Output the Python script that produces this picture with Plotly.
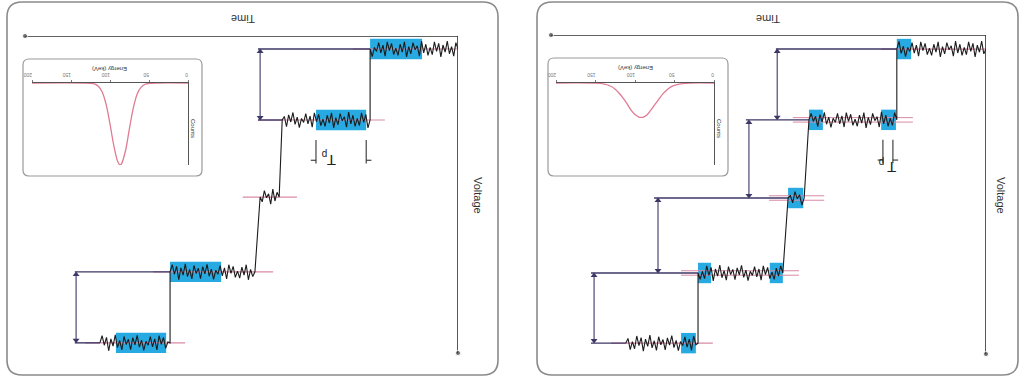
import plotly.graph_objects as go

W, H = 1022, 383

# ---------------- data ----------------
# hand-read noise pattern (relative amplitude), tiled along each plateau
NOISE = [0.2, -0.8, 0.9, -0.3, 0.6, -1.0, 0.4, -0.5, 1.0, -0.7, 0.3, -0.9, 0.7, -0.2,
         0.8, -0.6, 0.5, -1.0, 0.9, -0.4, 0.1, -0.8, 0.6, -0.3, 1.0, -0.9, 0.4, -0.6,
         0.8, -0.1, 0.7, -0.7, 0.2, -0.9, 0.9, -0.5, 0.5, -0.8, 0.3, -0.2, 0.95, -0.35,
         0.55, -0.95, 0.25, -0.65, 0.85, -0.45]

# left panel (time units 0..100, voltage units 0..100)
L_LEVELS = [4.1, 26.5, 50.8, 74.4, 96.8]
L_SEG_START = [0.0, 20.3, 41.3, 46.9, 66.5]
L_SEG_END = [20.3, 40.6, 45.7, 66.5, 82.7]
L_BOXES = [(8.3, 20.3, 0), (21.2, 32.8, 1), (54.7, 66.5, 3), (67.4, 79.0, 4)]
L_PINK = [(0.0, 24.2, 0), (16.9, 46.2, 1), (37.2, 49.7, 2), (42.7, 70.4, 3), (63.0, 86.1, 4)]
L_PURPLE = [(20.3, 46.2, 0), (40.6, 46.2, 1), (66.5, 88.5, 3), (82.7, 88.5, 4)]
L_ARROWS = [(45.7, 0, 1), (88.2, 3, 4)]
L_TP = [21.2, 32.8]
L_TP_LABEL = [(29.1, 39.3), (30.8, 37.6)]   # (time, voltage) of "T" and of "p"

# right panel
R_LEVELS = [4.4, 26.6, 51.1, 74.6, 96.6]
R_SEG_START = [0.0, 20.5, 41.8, 46.7, 66.2]
R_SEG_END = [20.5, 40.7, 45.5, 66.2, 82.8]
R_BOXES = [(17.2, 20.5, 0), (20.7, 24.1, 1), (37.5, 40.7, 1), (42.0, 45.5, 2),
           (46.7, 49.7, 3), (63.2, 66.2, 3), (66.7, 70.1, 4)]
R_PINK = [(0.0, 24.1, 0), (16.8, 44.4, 1), (37.2, 49.9, 2), (43.0, 70.1, 3), (62.8, 86.2, 4)]
R_PINK_DOUBLE = [1, 2, 3]
R_PURPLE = [(20.5, 48.3, 0), (40.7, 55.2, 1), (45.5, 76.3, 2), (66.2, 90.8, 3), (82.8, 90.8, 4)]
R_ARROWS = [(48.0, 0, 1), (54.5, 1, 2), (75.4, 2, 3), (90.1, 3, 4)]
R_TP = [21.4, 23.7]
R_TP_LABEL = [(21.7, 41.6), (24.0, 40.0)]

# insets: energy spectrum (counts vs energy)
ENERGY_TICKS = [0, 50, 100, 150, 200]
L_SPEC_E = [0, 40, 50, 55, 60, 65, 70, 75, 80, 85, 87, 90, 95, 100, 105, 110, 115, 120, 125, 135, 200]
L_SPEC_C = [0, 0, 0.5, 1.5, 5, 13, 30, 55, 82, 98, 100, 96, 77, 50, 26, 11, 4, 1.1, 0.3, 0, 0]
R_SPEC_E = [0, 30, 40, 50, 55, 60, 65, 70, 75, 80, 85, 90, 92, 95, 100, 105, 110, 115, 120, 125, 130, 140, 150, 200]
R_SPEC_C = [0, 0, 0.8, 2.8, 5, 8.8, 13.5, 20, 26.5, 33, 39, 41.8, 42, 41.5, 38.5, 33, 25.5, 18.5, 12.5, 7.6, 4.3, 1.2, 0.2, 0]

# ---------------- styles ----------------
BLUE = '#27a9e1'
PINK = '#d98aa6'
PURPLE = '#3d3766'
INK = '#1c1c1c'
AXIS = '#2e2e2e'
BORDER = '#8a8a8a'
SPEC = '#e07b93'
AMP = 2.5
STEP = 0.5
BOX_HALF = 3.2
FONT = 'Liberation Sans, Arial, sans-serif'


def px_x(p):
    return p / W


def px_y(p):
    return 1 - p / H


def rrect(x0, y0, x1, y1, r):
    pts = [('M', x0 + r, y0), ('L', x1 - r, y0), ('Q', x1, y0, x1, y0 + r), ('L', x1, y1 - r),
           ('Q', x1, y1, x1 - r, y1), ('L', x0 + r, y1), ('Q', x0, y1, x0, y1 - r),
           ('L', x0, y0 + r), ('Q', x0, y0, x0 + r, y0)]
    out = []
    for p in pts:
        cmd = p[0]
        coords = p[1:]
        s = []
        for i in range(0, len(coords), 2):
            s.append(f"{px_x(coords[i]):.5f},{px_y(coords[i+1]):.5f}")
        out.append(cmd + ' ' + ' '.join(s))
    return ' '.join(out) + ' Z'


def noisy(t0, t1, level, offset):
    n = max(2, int(round((t1 - t0) / STEP)) + 1)
    ts, vs = [], []
    for k in range(n):
        ts.append(t0 + (t1 - t0) * k / (n - 1))
        if k == 0 or k == n - 1:
            vs.append(level)
        else:
            vs.append(level + AMP * NOISE[(offset + k) % len(NOISE)])
    return ts, vs


fig = go.Figure()
shapes = []
annotations = []

# ---------------- axes layout ----------------
panels = [
    dict(xa='x', ya='y', xd=(25, 458), yd=(36, 353)),
    dict(xa='x3', ya='y3', xd=(551, 986), yd=(35, 354)),
]
insets = [
    dict(xa='x2', ya='y2', xd=(32, 188), yd=(83, 165)),
    dict(xa='x4', ya='y4', xd=(556, 714), yd=(83, 165)),
]

HIDDEN = dict(showline=False, showgrid=False, zeroline=False, showticklabels=False, ticks='',
              title=dict(text=''), fixedrange=True, automargin=False)

layout_axes = {}
for p in panels:
    xn = 'xaxis' + p['xa'][1:]
    yn = 'yaxis' + p['ya'][1:]
    layout_axes[xn] = dict(domain=[px_x(p['xd'][0]), px_x(p['xd'][1])], range=[100, 0],
                           anchor=p['ya'], **HIDDEN)
    layout_axes[yn] = dict(domain=[px_y(p['yd'][1]), px_y(p['yd'][0])], range=[100, 0],
                           anchor=p['xa'], **HIDDEN)
for p in insets:
    xn = 'xaxis' + p['xa'][1:]
    yn = 'yaxis' + p['ya'][1:]
    layout_axes[xn] = dict(domain=[px_x(p['xd'][0]), px_x(p['xd'][1])], range=[200, 0],
                           side='top', anchor=p['ya'], showline=True, linecolor='#555',
                           linewidth=1.2, ticks='outside', ticklen=2, tickcolor='#777',
                           tickvals=ENERGY_TICKS, ticktext=[str(v) for v in ENERGY_TICKS],
                           tickangle=180, tickfont=dict(size=5, color='#777', family=FONT),
                           showgrid=False, zeroline=False, fixedrange=True, automargin=False)
    layout_axes[yn] = dict(domain=[px_y(p['yd'][1]), px_y(p['yd'][0])], range=[100, 0],
                           side='right', anchor=p['xa'], showline=True, linecolor='#555',
                           linewidth=1.2, showticklabels=False, ticks='', showgrid=False,
                           zeroline=False, fixedrange=True, automargin=False)

# ---------------- panel content ----------------
def draw_panel(xa, ya, levels, seg_s, seg_e, boxes, pinks, pink_double, purples, arrows, tp,
               tp_label, off0):
    for t0, t1, li in boxes:
        shapes.append(dict(type='rect', xref=xa, yref=ya, x0=t0, x1=t1,
                           y0=levels[li] - BOX_HALF, y1=levels[li] + BOX_HALF,
                           fillcolor=BLUE, line=dict(width=0), layer='below'))
    for t0, t1, li in pinks:
        if li in pink_double:
            for dv in (-0.7, 0.7):
                shapes.append(dict(type='line', xref=xa, yref=ya, x0=t0, x1=t1,
                                   y0=levels[li] + dv, y1=levels[li] + dv,
                                   line=dict(color=PINK, width=1), layer='below'))
        else:
            shapes.append(dict(type='line', xref=xa, yref=ya, x0=t0, x1=t1,
                               y0=levels[li], y1=levels[li],
                               line=dict(color=PINK, width=1.2), layer='below'))
    for t0, t1, li in purples:
        shapes.append(dict(type='line', xref=xa, yref=ya, x0=t0, x1=t1,
                           y0=levels[li], y1=levels[li],
                           line=dict(color=PURPLE, width=1.4), layer='below'))
    # double-headed arrows between consecutive levels (line + triangle heads)
    for t, a, b in arrows:
        fig.add_trace(go.Scatter(x=[t, t], y=[levels[a] + 0.8, levels[b] - 0.8], xaxis=xa, yaxis=ya,
                                 mode='lines+markers', line=dict(color=PURPLE, width=1.1),
                                 marker=dict(symbol=['triangle-up', 'triangle-down'], size=6,
                                             color=PURPLE),
                                 hoverinfo='skip', cliponaxis=False))
    for t in tp:
        shapes.append(dict(type='line', xref=xa, yref=ya, x0=t, x1=t, y0=32.8, y1=40.2,
                           line=dict(color='#333', width=1.1)))
    shapes.append(dict(type='line', xref=xa, yref=ya, x0=tp[0] - 1.2, x1=tp[0], y0=39.2, y1=39.2,
                       line=dict(color='#333', width=1.1)))
    shapes.append(dict(type='line', xref=xa, yref=ya, x0=tp[1], x1=tp[1] + 1.2, y0=39.2, y1=39.2,
                       line=dict(color='#333', width=1.1)))
    (tt, tv), (pt, pv) = tp_label
    annotations.append(dict(xref=xa, yref=ya, x=tt, y=tv, text='T', showarrow=False,
                            textangle=180, xanchor='center', yanchor='middle',
                            font=dict(size=15, color='#222', family=FONT)))
    annotations.append(dict(xref=xa, yref=ya, x=pt, y=pv, text='p', showarrow=False,
                            textangle=180, xanchor='center', yanchor='middle',
                            font=dict(size=10, color='#222', family=FONT)))
    ts, vs = [], []
    for i, lv in enumerate(levels):
        a, b = noisy(seg_s[i], seg_e[i], lv, off0 + 7 * i)
        ts += a
        vs += b
    fig.add_trace(go.Scatter(x=ts, y=vs, xaxis=xa, yaxis=ya, mode='lines',
                             line=dict(color=INK, width=1.1), hoverinfo='skip', cliponaxis=False))
    fig.add_trace(go.Scatter(x=[0, 100], y=[0, 0], xaxis=xa, yaxis=ya, mode='lines+markers',
                             line=dict(color=AXIS, width=1.6), marker=dict(size=[0, 5], color=AXIS),
                             hoverinfo='skip', cliponaxis=False))
    fig.add_trace(go.Scatter(x=[0, 0], y=[0, 100], xaxis=xa, yaxis=ya, mode='lines+markers',
                             line=dict(color=AXIS, width=1.6), marker=dict(size=[0, 5], color=AXIS),
                             hoverinfo='skip', cliponaxis=False))


draw_panel('x', 'y', L_LEVELS, L_SEG_START, L_SEG_END, L_BOXES, L_PINK, [], L_PURPLE,
           L_ARROWS, L_TP, L_TP_LABEL, 0)
draw_panel('x3', 'y3', R_LEVELS, R_SEG_START, R_SEG_END, R_BOXES, R_PINK, R_PINK_DOUBLE,
           R_PURPLE, R_ARROWS, R_TP, R_TP_LABEL, 3)

fig.add_trace(go.Scatter(x=L_SPEC_E, y=L_SPEC_C, xaxis='x2', yaxis='y2', mode='lines',
                         line=dict(color=SPEC, width=1.3, shape='spline'), hoverinfo='skip',
                         cliponaxis=False))
fig.add_trace(go.Scatter(x=R_SPEC_E, y=R_SPEC_C, xaxis='x4', yaxis='y4', mode='lines',
                         line=dict(color=SPEC, width=1.3, shape='spline'), hoverinfo='skip',
                         cliponaxis=False))

shapes.append(dict(type='path', xref='paper', yref='paper', path=rrect(7, 2, 498, 375, 15),
                   line=dict(color=BORDER, width=1.6)))
shapes.append(dict(type='path', xref='paper', yref='paper', path=rrect(537, 2, 1018, 375, 15),
                   line=dict(color=BORDER, width=1.6)))
shapes.append(dict(type='path', xref='paper', yref='paper', path=rrect(23, 59, 202, 176, 6),
                   line=dict(color='#9a9a9a', width=1.2)))
shapes.append(dict(type='path', xref='paper', yref='paper', path=rrect(548, 58, 728, 176, 6),
                   line=dict(color='#9a9a9a', width=1.2)))

for x, y, txt, ang, size in [(243, 19, 'Time', 180, 11), (478, 195, 'Voltage', 90, 11),
                             (768, 19, 'Time', 180, 11), (1001, 195, 'Voltage', 90, 11),
                             (110, 69, 'Energy (keV)', 180, 6), (636, 68, 'Energy (keV)', 180, 6),
                             (193, 128, 'Counts', 90, 6), (719, 128, 'Counts', 90, 6)]:
    annotations.append(dict(xref='paper', yref='paper', x=px_x(x), y=px_y(y), text=txt,
                            showarrow=False, textangle=ang, xanchor='center', yanchor='middle',
                            font=dict(size=size, color='#333', family=FONT)))

fig.update_layout(width=W, height=H, autosize=False,
                  margin=dict(l=0, r=0, t=0, b=0, pad=0, autoexpand=False),
                  paper_bgcolor='white', plot_bgcolor='rgba(0,0,0,0)', showlegend=False,
                  shapes=shapes, annotations=annotations, **layout_axes)

fig.write_html('out.html', config=dict(displayModeBar=False))
